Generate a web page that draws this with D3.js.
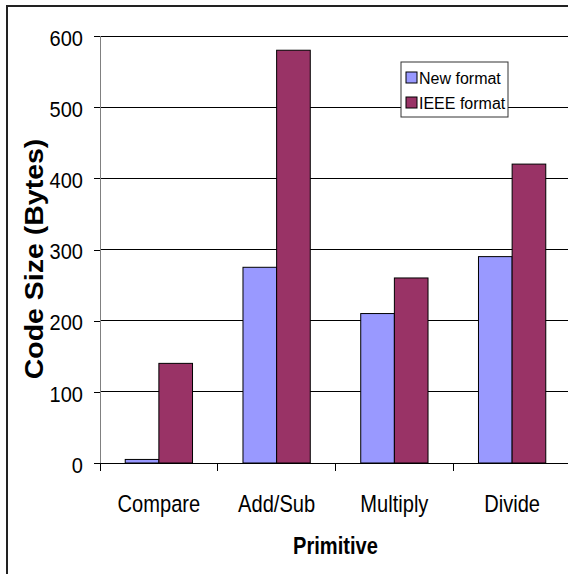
<!DOCTYPE html>
<html>
<head>
<meta charset="utf-8">
<script src="https://cdn.jsdelivr.net/npm/d3@7"></script>
<style>
  body { margin: 0; background: #fff; }
  svg { display: block; font-family: "Liberation Sans", Arial, sans-serif; }
</style>
</head>
<body>
<div id="chart"></div>
<script>
const categories = ['Compare', 'Add/Sub', 'Multiply', 'Divide'];
const seriesNames = ['New format', 'IEEE format'];
const newFormat = [5, 275, 210, 290];
const ieeeFormat = [140, 580, 260, 420];
const yTicks = [0, 100, 200, 300, 400, 500, 600];
const colors = ['#9999ff', '#993366'];

const W = 568, H = 574;
const plot = { left: 100, top: 36, right: 571, bottom: 463 };

// the original text is squeezed sideways a little
const tickSx = 0.91, catSx = 0.82;

const svg = d3.select('#chart')
    .append('svg')
    .attr('width', W)
    .attr('height', H);

// outer chart frame (runs past the window edge like the original)
svg.append('rect')
    .attr('x', 7).attr('y', 6)
    .attr('width', 600).attr('height', 620)
    .attr('fill', '#fff')
    .attr('stroke', '#222')
    .attr('stroke-width', 2);

const x0 = d3.scaleBand()
    .domain(categories)
    .range([plot.left, plot.right]);

// gap width 150%: 2 bars + 1.5 bar gap per category
const barW = x0.bandwidth() / 3.5;
const x1 = d3.scaleBand()
    .domain(seriesNames)
    .range([0.75 * barW, 2.75 * barW]);

const y = d3.scaleLinear()
    .domain([0, 600])
    .range([plot.bottom, plot.top]);

// gridlines
svg.append('g')
    .selectAll('line')
    .data(yTicks.filter(d => d > 0))
    .join('line')
    .attr('x1', plot.left).attr('x2', plot.right)
    .attr('y1', d => y(d)).attr('y2', d => y(d))
    .attr('stroke', '#000')
    .attr('stroke-width', 1)
    .attr('shape-rendering', 'crispEdges');

// y axis
const yAxis = d3.axisLeft(y)
    .tickValues(yTicks)
    .tickSize(6)
    .tickFormat(d => `${d}`);

const gy = svg.append('g')
    .attr('transform', `translate(${plot.left},0)`)
    .call(yAxis);
gy.select('.domain').attr('stroke', '#808080').attr('shape-rendering', 'crispEdges');
gy.selectAll('.tick line').attr('stroke', '#000').attr('shape-rendering', 'crispEdges');
gy.selectAll('.tick text')
    .attr('font-size', 22)
    .attr('fill', '#000')
    .attr('font-family', '"Liberation Sans", Arial, sans-serif')
    .attr('x', -17 / tickSx)
    .attr('dy', '0.42em')
    .attr('transform', `scale(${tickSx},1)`);

// bars
const rows = seriesNames.map((s, i) => ({ name: s, values: i === 0 ? newFormat : ieeeFormat, color: colors[i] }));

svg.append('g')
    .selectAll('g')
    .data(rows)
    .join('g')
    .attr('fill', d => d.color)
    .selectAll('rect')
    .data(d => d.values.map((v, j) => ({ name: d.name, cat: categories[j], v })))
    .join('rect')
    .attr('x', d => x0(d.cat) + x1(d.name))
    .attr('y', d => y(d.v))
    .attr('width', x1.bandwidth())
    .attr('height', d => y(0) - y(d.v))
    .attr('stroke', '#000')
    .attr('stroke-width', 1);

// x axis: ticks between categories
const xAxis = d3.axisBottom(x0).tickSize(0);
const gx = svg.append('g')
    .attr('transform', `translate(0,${plot.bottom})`)
    .call(xAxis);
gx.select('.domain').attr('stroke', '#000').attr('shape-rendering', 'crispEdges');
gx.selectAll('.tick text')
    .attr('font-size', 24.5)
    .attr('fill', '#000')
    .attr('font-family', '"Liberation Sans", Arial, sans-serif')
    .attr('y', 48.7)
    .attr('dy', 0)
    .attr('transform', `scale(${catSx},1)`);

const bounds = categories.map(c => x0(c)).concat([plot.right]);
gx.selectAll('.sep')
    .data(bounds)
    .join('line')
    .attr('class', 'sep')
    .attr('x1', d => d).attr('x2', d => d)
    .attr('y1', 0).attr('y2', 8)
    .attr('stroke', '#000')
    .attr('shape-rendering', 'crispEdges');

// axis titles
svg.append('text')
    .attr('transform', `translate(${(plot.left + plot.right) / 2},554.3) scale(${catSx},1)`)
    .attr('text-anchor', 'middle')
    .attr('font-size', 24.5)
    .attr('font-weight', 'bold')
    .text('Primitive');

svg.append('text')
    .attr('transform', 'translate(42.5,259) rotate(-90) scale(1,0.93)')
    .attr('text-anchor', 'middle')
    .attr('font-size', 28.5)
    .attr('font-weight', 'bold')
    .text('Code Size (Bytes)');

// legend
const legend = svg.append('g').attr('transform', 'translate(401,62)');
legend.append('rect')
    .attr('width', 107).attr('height', 55)
    .attr('fill', '#fff')
    .attr('stroke', '#333')
    .attr('stroke-width', 1);

const items = legend.selectAll('g.item')
    .data(rows)
    .join('g')
    .attr('class', 'item')
    .attr('transform', (d, i) => `translate(5,${16 + i * 25})`);

items.append('rect')
    .attr('x', 0).attr('y', -6)
    .attr('width', 11).attr('height', 11)
    .attr('fill', d => d.color)
    .attr('stroke', '#000');

items.append('text')
    .attr('x', 13)
    .attr('y', 6)
    .attr('font-size', 16)
    .text(d => d.name);
</script>
</body>
</html>
